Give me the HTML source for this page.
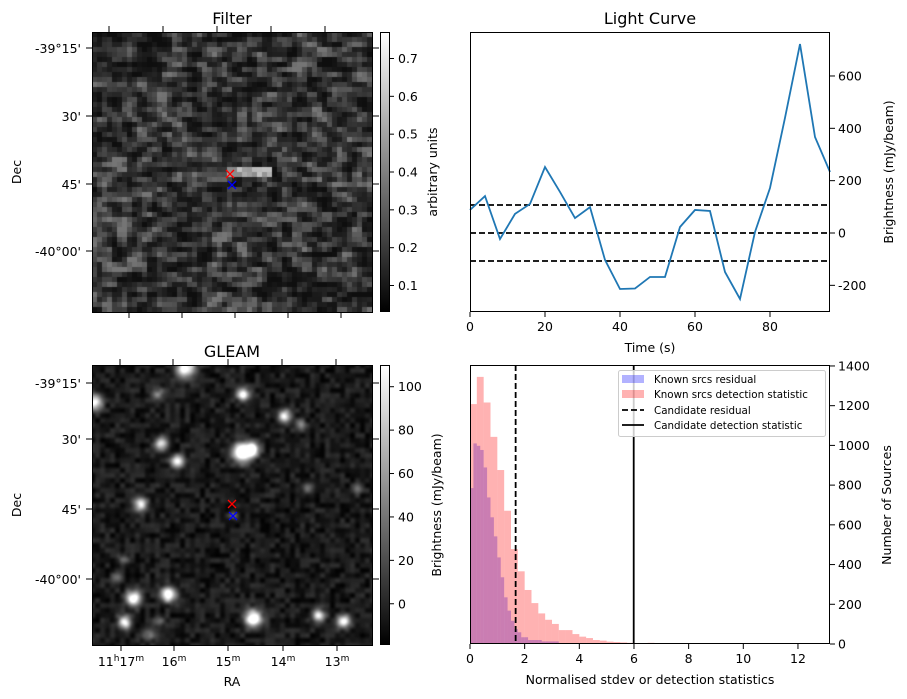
<!DOCTYPE html>
<html><head><meta charset="utf-8">
<style>
body{margin:0;background:#fff;width:907px;height:699px;overflow:hidden;position:relative;font-family:"DejaVu Sans","Liberation Sans",sans-serif;}
canvas{position:absolute;}
svg{position:absolute;left:0;top:0;}
text{font-family:"DejaVu Sans","Liberation Sans",sans-serif;fill:#000;}
</style></head><body>
<canvas id="filt" width="280" height="280" style="left:92px;top:32px"></canvas>
<canvas id="gleam" width="280" height="280" style="left:92px;top:365px"></canvas>
<svg id="s" width="907" height="699">
<defs>
<linearGradient id="gray" x1="0" y1="1" x2="0" y2="0"><stop offset="0" stop-color="#000"/><stop offset="1" stop-color="#fff"/></linearGradient>
</defs>
</svg>
<script>
// ---- Light curve data ----
const lcTimes=[0,4,8,12,16,20,24,28,32,36,40,44,48,52,56,60,64,68,72,76,80,84,88,92,96];
const lcValues=[88,141,-23,73,111,252,157,57,99,-103,-214,-212,-168,-168,23,88,84,-149,-252,4,172,440,722,367,233];
const lcThresholds=[107,0,-107];
const lcXTicks=[0,20,40,60,80];
const lcYTicks=[-200,0,200,400,600];
// ---- Histogram data ----
const redBinWidth=0.25;
const redCounts=[1208,1345,1216,1043,876,671,478,366,272,206,154,122,101,70,70,50,37,30,20,17,12,10,8,6,5,0,6,5,0,0,5,5,0,0,0,5,5,0,5,0,5,0,0,0,5,0,0,0,5,0,0,0];
const blueBinWidth=0.125;
const blueCounts=[785,1010,998,977,889,738,638,542,436,336,235,168,117,75,59,34,34,20,20,20,20,13,13,13,13,13,5,5,5,0,0,3];
const candResidual=1.67;
const candDetection=5.99;
const hXTicks=[0,2,4,6,8,10,12];
const hYTicks=[0,200,400,600,800,1000,1200,1400];
// ---- GLEAM sources [px x, px y, radius, peak] (image coords) ----
const gleamSources=[[93,3,9,130],[2,37,7,120],[65,28,6,50],[151,29,6,120],[192,51,6,120],[208,59,5,50],[69,78,6,110],[85,96,6,110],[150,87,9,160],[160,84,6,130],[48,139,6,110],[41,233,7,140],[76,229,7,140],[32,257,6,120],[56,270,6,50],[161,253,8,150],[226,250,6,110],[251,256,6,130],[66,256,5,40],[25,212,5,40],[215,123,5,40],[265,123,5,35],[31,193,5,35],[141,150,4,40]];

const S=document.getElementById('s');const NS='http://www.w3.org/2000/svg';
function el(t,a,p){const e=document.createElementNS(NS,t);for(const k in a)e.setAttribute(k,a[k]);(p||S).appendChild(e);return e;}
function txt(x,y,s,size,a){const e=el('text',Object.assign({x:x,y:y},a||{}));e.style.fontSize=(size||12.5)+'px';e.textContent=s;return e;}

// seeded texture noise (mulberry32)
let st=987654321;function rnd(){st|=0;st=st+0x6D2B79F5|0;let t=Math.imul(st^st>>>15,1|st);t=t+Math.imul(t^t>>>7,61|t)^t;return((t^t>>>14)>>>0)/4294967296;}
// Filter image
(function(){const c=document.getElementById('filt').getContext('2d');const N=56,cs=5;let g=[];
for(let j=0;j<N+2;j++){g[j]=[];for(let i=0;i<N+2;i++)g[j][i]=rnd();}
for(let j=0;j<N;j++)for(let i=0;i<N;i++){
 let v=(g[j+1][i+1]*2+g[j+1][i]+g[j+1][i+2]+0.5*(g[j][i+1]+g[j+2][i+1]))/5;
 v=Math.max(0,Math.min(1,(v-0.2)/0.6));let val=0.07+Math.pow(v,1.6)*0.3;
 if(j>=27&&j<=28&&i>=27&&i<=35)val=0.42+0.2*rnd();
 const b=Math.max(0,Math.min(255,(val-0.03)/0.74*255));c.fillStyle='rgb('+b+','+b+','+b+')';c.fillRect(i*cs,j*cs,cs,cs);}})();
// GLEAM image
(function(){const c=document.getElementById('gleam').getContext('2d');const W=280;const img=c.createImageData(W,W);const N=60;let g=[];
for(let j=0;j<=N;j++){g[j]=[];for(let i=0;i<=N;i++)g[j][i]=rnd();}
const sm=u=>u*u*(3-2*u);
for(let y=0;y<W;y++)for(let x=0;x<W;x++){const fx=x/5,fy=y/5,i=Math.floor(fx),j=Math.floor(fy),u=sm(fx-i),v=sm(fy-j);
const n=g[j][i]*(1-u)*(1-v)+g[j][i+1]*u*(1-v)+g[j+1][i]*(1-u)*v+g[j+1][i+1]*u*v;let val=-18+n*24;
for(const s of gleamSources){const dx=x-s[0],dy=y-s[1];const r2=dx*dx+dy*dy;if(r2<900)val+=s[3]*Math.exp(-r2/(2*(s[2]*0.75)*(s[2]*0.75)));}
const b=Math.max(0,Math.min(255,(val+19)/129*255));const k=(y*W+x)*4;img.data[k]=img.data[k+1]=img.data[k+2]=b;img.data[k+3]=255;}
c.putImageData(img,0,0);})();

function imgFrame(top,name,title,decLabels,topTicks,botTicks,raLabels){
  const g=el('g',{});
  el('rect',{x:92.5,y:top+0.5,width:280,height:280,fill:'none',stroke:'#000','stroke-width':1},g);
  txt(232,top-8,title,16,{'text-anchor':'middle'});
  decLabels.forEach(d=>{el('line',{x1:86,x2:92,y1:d[0],y2:d[0],stroke:'#000'},g);txt(81,d[0]+5,d[1],12.5,{'text-anchor':'end'});});
  decLabels.forEach(d=>{el('line',{x1:373,x2:379,y1:d[0],y2:d[0],stroke:'#000'},g);});
  topTicks.forEach(x=>el('line',{x1:x,x2:x,y1:top-6,y2:top,stroke:'#000'},g));
  botTicks.forEach(x=>el('line',{x1:x,x2:x,y1:top+280,y2:top+286,stroke:'#000'},g));
  if(raLabels){raLabels.forEach((r,i)=>{const t=el('text',{x:botTicks[i],y:top+301,'text-anchor':'middle'});t.style.fontSize='12.5px';t.innerHTML=r;});
    txt(232,top+321,'RA',12.5,{'text-anchor':'middle'});}
  const t=txt(0,0,'Dec',12.5,{transform:'translate(21,'+(top+140)+') rotate(-90)','text-anchor':'middle'});
}
imgFrame(32,'filter-panel','Filter',[[48,"-39°15'"],[116,"30'"],[184,"45'"],[251,"-40°00'"]],[109,163,217,271,325],[129,182,235,288,341],null);
imgFrame(365,'gleam-panel','GLEAM',[[383,"-39°15'"],[439,"30'"],[509,"45'"],[579,"-40°00'"]],[120,173,228,282,336],[121,174,228,283,337],
 ['11<tspan font-size="9" dy="-5">h</tspan><tspan dy="5">17</tspan><tspan font-size="9" dy="-5">m</tspan>','16<tspan font-size="9" dy="-5">m</tspan>','15<tspan font-size="9" dy="-5">m</tspan>','14<tspan font-size="9" dy="-5">m</tspan>','13<tspan font-size="9" dy="-5">m</tspan>']);
function cross(x,y,col,n){const g=el('g',{stroke:col,'stroke-width':1.3});
 el('line',{x1:x-4,y1:y-4,x2:x+4,y2:y+4},g);el('line',{x1:x-4,y1:y+4,x2:x+4,y2:y-4},g);}
cross(230,174,'#f00','filter-red-marker');cross(232,185,'#00f','filter-blue-marker');
cross(232,504,'#f00','gleam-red-marker');cross(233,516,'#00f','gleam-blue-marker');

// colorbars
function cbar(top,name,vmin,vmax,ticks,label,lx){const g=el('g',{});
 el('rect',{x:380.5,y:top+0.5,width:9,height:279,fill:'url(#gray)',stroke:'#000'},g);
 ticks.forEach(t=>{const y=top+280-(t-vmin)/(vmax-vmin)*280;el('line',{x1:389,x2:394,y1:y,y2:y,stroke:'#000'},g);txt(398,y+4.5,String(t));});
 txt(0,0,label,12.5,{transform:'translate('+lx+','+(top+140)+') rotate(-90)','text-anchor':'middle'});}
cbar(32,'filter-colorbar',0.03,0.77,[0.1,0.2,0.3,0.4,0.5,0.6,0.7].map(v=>+v.toFixed(1)),'arbitrary units',437);
cbar(365,'gleam-colorbar',-19,110,[0,20,40,60,80,100],'Brightness (mJy/beam)',441);

// Light curve
const LX0=470,LX1=830,LY0=32,LY1=312;
const lx=t=>LX0+(t-0)/96*(LX1-LX0);
const ly=v=>233-v*0.2617;
(function(){const g=el('g',{});
 lcThresholds.forEach((v,i)=>{const l=el('line',{x1:LX0,x2:LX1,y1:ly(v),y2:ly(v),stroke:'#000','stroke-width':1.8,'stroke-dasharray':'6,3'},g);});
 const p=el('polyline',{points:lcTimes.map((t,i)=>lx(t)+','+ly(lcValues[i])).join(' '),fill:'none',stroke:'#1f77b4','stroke-width':1.8},g);
 
 el('rect',{x:LX0+0.5,y:LY0+0.5,width:LX1-LX0-1,height:LY1-LY0-1,fill:'none',stroke:'#000'},g);
 lcXTicks.forEach(t=>{el('line',{x1:lx(t),x2:lx(t),y1:LY1,y2:LY1+5,stroke:'#000'},g);txt(lx(t),LY1+19,String(t),12.5,{'text-anchor':'middle'});});
 lcYTicks.forEach(v=>{el('line',{x1:LX1,x2:LX1+5,y1:ly(v),y2:ly(v),stroke:'#000'},g);txt(LX1+8,ly(v)+4.5,String(v));});
 txt(650,24,'Light Curve',16,{'text-anchor':'middle'});
 txt(650,352,'Time (s)',12.5,{'text-anchor':'middle'});
 txt(0,0,'Brightness (mJy/beam)',12.5,{transform:'translate(893,172) rotate(-90)','text-anchor':'middle'});})();

// Histogram
const HX0=470,HX1=830,HY0=365,HY1=644;
const hx=v=>HX0+v*27.33;
const hy=c=>HY1-c*0.1986;
(function(){const g=el('g',{});
 blueCounts.forEach((c,i)=>{if(!c)return;const r=el('rect',{x:hx(i*blueBinWidth),y:hy(c),width:hx((i+1)*blueBinWidth)-hx(i*blueBinWidth),height:HY1-hy(c),fill:'rgba(0,0,255,0.3)'},g);});
 redCounts.forEach((c,i)=>{if(!c)return;const r=el('rect',{x:hx(i*redBinWidth),y:hy(c),width:hx((i+1)*redBinWidth)-hx(i*redBinWidth),height:HY1-hy(c),fill:'rgba(255,0,0,0.3)'},g);});
 el('line',{x1:hx(candResidual),x2:hx(candResidual),y1:HY0,y2:HY1,stroke:'#000','stroke-width':1.8,'stroke-dasharray':'6,3'},g);
 el('line',{x1:hx(candDetection),x2:hx(candDetection),y1:HY0,y2:HY1,stroke:'#000','stroke-width':1.8},g);
 el('rect',{x:HX0+0.5,y:HY0+0.5,width:HX1-HX0-1,height:HY1-HY0-1,fill:'none',stroke:'#000'},g);
 hXTicks.forEach(t=>{el('line',{x1:hx(t),x2:hx(t),y1:HY1,y2:HY1+5,stroke:'#000'},g);txt(hx(t),HY1+19,String(t),12.5,{'text-anchor':'middle'});});
 hYTicks.forEach(v=>{el('line',{x1:HX1,x2:HX1+5,y1:hy(v),y2:hy(v),stroke:'#000'},g);txt(HX1+8,hy(v)+4.5,String(v));});
 txt(650,684,'Normalised stdev or detection statistics',12.5,{'text-anchor':'middle'});
 txt(0,0,'Number of Sources',12.5,{transform:'translate(891,505) rotate(-90)','text-anchor':'middle'});
 const L=el('g',{},g);
 el('rect',{x:618.5,y:370.5,width:207,height:66,rx:2,fill:'rgba(255,255,255,0.8)',stroke:'#ccc'},L);
 el('rect',{x:622,y:375,width:22,height:8,fill:'rgba(0,0,255,0.3)'},L);
 el('rect',{x:622,y:390,width:22,height:8,fill:'rgba(255,0,0,0.3)'},L);
 el('line',{x1:622,x2:644,y1:410,y2:410,stroke:'#000','stroke-width':1.8,'stroke-dasharray':'6,3'},L);
 el('line',{x1:622,x2:644,y1:425,y2:425,stroke:'#000','stroke-width':1.8},L);
 [['Known srcs residual',383],['Known srcs detection statistic',398],['Candidate residual',414],['Candidate detection statistic',429]].forEach(e=>{txt(654,e[1],e[0],10.3);});})();
</script>
</body></html>
